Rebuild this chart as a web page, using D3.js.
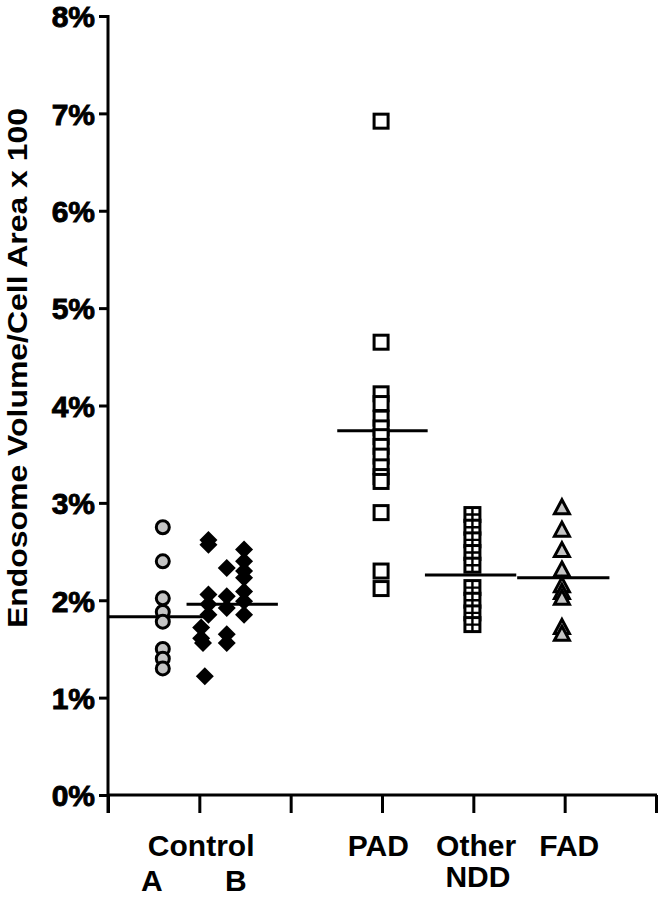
<!DOCTYPE html>
<html>
<head>
<meta charset="utf-8">
<script src="https://cdn.jsdelivr.net/npm/d3@7"></script>
<style>
  body { margin: 0; background: #fff; }
  svg { display: block; }
  .tick-label { font-family: "Liberation Sans", Arial, sans-serif; font-weight: bold; font-size: 30px; stroke: #000; stroke-width: 0.9px; }
  .cat-label { font-family: "Liberation Sans", Arial, sans-serif; font-weight: bold; font-size: 30px; }
  .axis-label { font-family: "Liberation Sans", Arial, sans-serif; font-weight: bold; font-size: 27px; }
</style>
</head>
<body>
<svg id="chart" width="661" height="900"></svg>
<script>
// DATA (values in %, x in category units along the axis)
const yTicks = [0, 1, 2, 3, 4, 5, 6, 7, 8];
const xTicks = [0, 1, 2, 3, 4, 5, 6];

const controlA = [2.75, 2.40, 2.02, 1.88, 1.78, 1.50, 1.40, 1.30];
const controlAx = 0.6;

// control B is spread over three little columns
const controlB = [2.62, 2.57, 2.06, 1.96, 1.85, 1.72, 1.61, 1.56, 1.22,
                  2.33, 2.04, 1.92, 1.65, 1.56,
                  2.52, 2.40, 2.30, 2.23, 2.09, 1.99, 1.85];
const controlBx = [1.10, 1.10, 1.10, 1.10, 1.10, 1.02, 1.02, 1.04, 1.06,
                   1.30, 1.30, 1.30, 1.30, 1.30,
                   1.49, 1.49, 1.49, 1.49, 1.49, 1.49, 1.49];

const pad = [6.92, 4.65, 4.12, 4.02, 3.87, 3.77, 3.68, 3.58, 3.48, 3.37, 3.27, 3.22, 2.90, 2.30, 2.12];
const padX = 2.99;

const otherNDD = [2.88, 2.75, 2.62, 2.49, 2.36, 2.13, 2.00, 1.87, 1.75];
const nddX = 3.99;

const fad = [2.95, 2.72, 2.51, 2.31, 2.15, 2.08, 2.02, 1.72, 1.65];
const fadX = 4.97;

// group means: [x start, x end, value]
const meanLines = [
    [0.00, 1.06, 1.83],
    [0.86, 1.86, 1.96],
    [2.51, 3.50, 3.74],
    [3.47, 4.47, 2.26],
    [4.48, 5.49, 2.23]
];

// category labels: [text, x position, baseline]
const catLabels = [
    ["Control", 1.02, 856],
    ["PAD", 2.96, 856],
    ["Other", 4.03, 856],
    ["FAD", 5.05, 856],
    ["NDD", 4.05, 887],
    ["A", 0.48, 891],
    ["B", 1.40, 891]
];

// SETUP
const svg = d3.select("#chart");

const x = d3.scaleLinear().domain([0, 6]).range([108, 656]);
const y = d3.scaleLinear().domain([0, 8]).range([795, 16]);

// AXES
const yAxis = svg.append("g")
    .attr("transform", `translate(${x(0)},0)`)
    .call(d3.axisLeft(y).tickValues(yTicks).tickSize(9).tickSizeOuter(0).tickFormat(d => d + "%"));
yAxis.select(".domain").remove();
yAxis.selectAll("line").attr("stroke", "#000").attr("stroke-width", 3);
yAxis.selectAll("text").attr("class", "tick-label").attr("fill", "#000").attr("x", -13).attr("dy", "0.36em");

const xAxis = svg.append("g")
    .attr("transform", `translate(0,${y(0)})`)
    .call(d3.axisBottom(x).tickValues(xTicks).tickSize(18).tickSizeOuter(0).tickFormat(""));
xAxis.select(".domain").remove();
xAxis.selectAll("line").attr("stroke", "#000").attr("stroke-width", 3);

// axis lines
svg.append("line")
    .attr("x1", x(0)).attr("x2", x(0))
    .attr("y1", y(8) - 1).attr("y2", y(0) + 18)
    .attr("stroke", "#000").attr("stroke-width", 3);
svg.append("line")
    .attr("x1", x(0)).attr("x2", x(6) + 1)
    .attr("y1", y(0)).attr("y2", y(0))
    .attr("stroke", "#000").attr("stroke-width", 3);

// Y label
svg.append("text")
    .attr("class", "axis-label")
    .attr("transform", `translate(27,${(108 + 628) / 2}) rotate(-90)`)
    .attr("text-anchor", "middle")
    .attr("textLength", 520)
    .attr("lengthAdjust", "spacingAndGlyphs")
    .text("Endosome Volume/Cell Area x 100");

// category labels
svg.selectAll(".cat-label")
    .data(catLabels)
    .enter()
    .append("text")
    .attr("class", "cat-label")
    .attr("text-anchor", "middle")
    .attr("x", d => x(d[1]))
    .attr("y", d => d[2])
    .text(d => d[0]);

// MEAN LINES
svg.selectAll(".mean")
    .data(meanLines)
    .enter()
    .append("line")
    .attr("x1", d => x(d[0]))
    .attr("x2", d => x(d[1]))
    .attr("y1", d => y(d[2]))
    .attr("y2", d => y(d[2]))
    .attr("stroke", "#000")
    .attr("stroke-width", 3);

// POINTS
// Control A - stippled circles
svg.selectAll(".ptA")
    .data(controlA)
    .enter()
    .append("circle")
    .attr("cx", x(controlAx))
    .attr("cy", d => y(d))
    .attr("r", 6.5)
    .attr("fill", "#c4c4c4")
    .attr("stroke", "#000")
    .attr("stroke-width", 3);

// Control B - filled diamonds
svg.selectAll(".ptB")
    .data(controlB)
    .enter()
    .append("path")
    .attr("transform", (d, i) => `translate(${x(controlBx[i])},${y(d)})`)
    .attr("d", "M0,-9L9,0L0,9L-9,0Z")
    .attr("fill", "#000");

// PAD - open squares
svg.selectAll(".ptPAD")
    .data(pad)
    .enter()
    .append("rect")
    .attr("x", x(padX) - 7)
    .attr("y", d => y(d) - 7)
    .attr("width", 14)
    .attr("height", 14)
    .attr("fill", "#fff")
    .attr("stroke", "#000")
    .attr("stroke-width", 3);

// Other NDD - squares with a cross
const ndd = svg.selectAll(".ptNDD")
    .data(otherNDD)
    .enter()
    .append("g")
    .attr("transform", d => `translate(${x(nddX)},${y(d)})`);
ndd.append("rect")
    .attr("x", -7.5).attr("y", -7)
    .attr("width", 15).attr("height", 14)
    .attr("fill", "#fff").attr("stroke", "#000").attr("stroke-width", 3);
ndd.append("path")
    .attr("d", "M0,-7V7M-7.5,0H7.5")
    .attr("stroke", "#000").attr("stroke-width", 2.4);

// FAD - stippled triangles
svg.selectAll(".ptFAD")
    .data(fad)
    .enter()
    .append("path")
    .attr("transform", d => `translate(${x(fadX)},${y(d)})`)
    .attr("d", "M0,-8L7.5,6L-7.5,6Z")
    .attr("fill", "#c4c4c4")
    .attr("stroke", "#000")
    .attr("stroke-width", 3)
    .attr("stroke-linejoin", "miter");
</script>
</body>
</html>
